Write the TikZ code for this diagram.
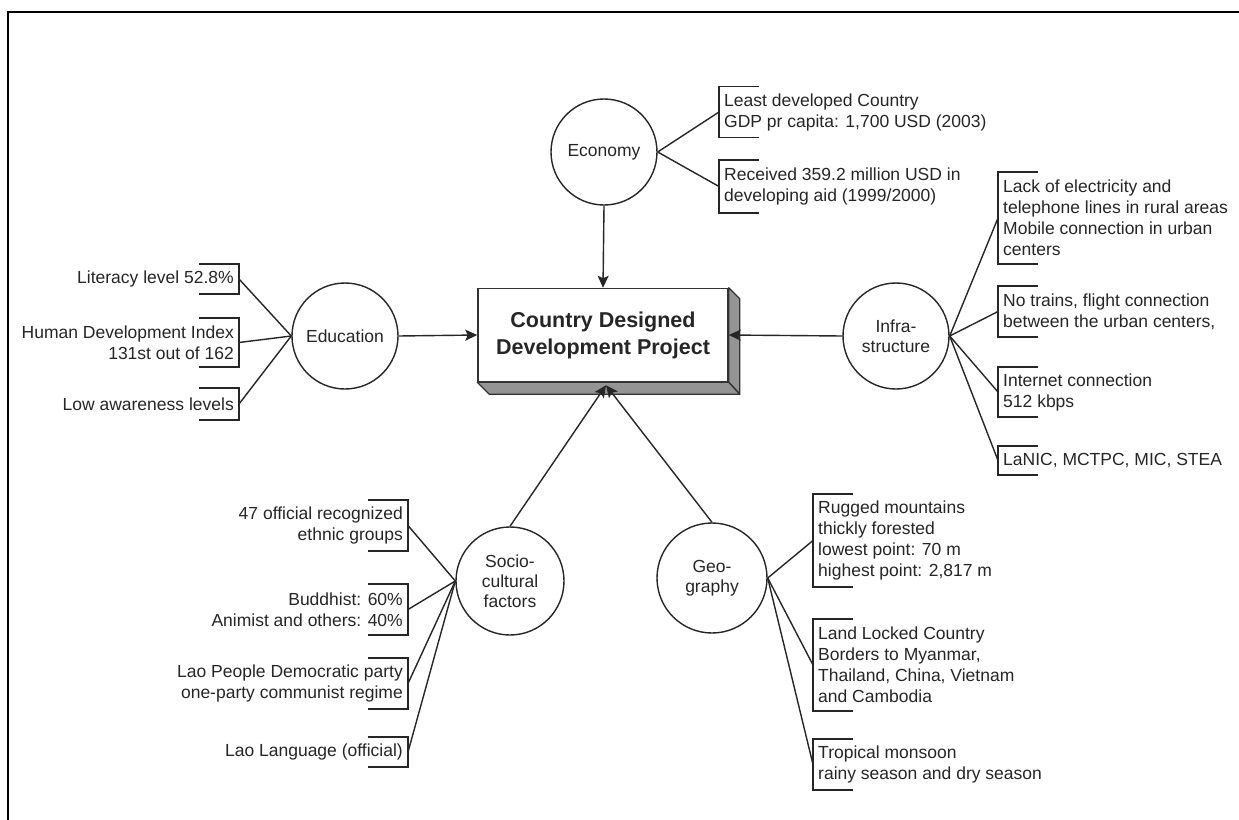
\documentclass[tikz,border=0pt]{standalone}
\usepackage{fontspec}
\setmainfont{Liberation Sans}
\usetikzlibrary{arrows.meta,calc}

% brackets: open to the right (text on the right side of the bar)
\newcommand\bracketR[1]{\draw[brk] ([xshift=40pt]#1.north west) -- (#1.north west) -- (#1.south west) -- ([xshift=40pt]#1.south west);}
% brackets: open to the left (text on the left side of the bar)
\newcommand\bracketL[1]{\draw[brk] ([xshift=-40pt]#1.north east) -- (#1.north east) -- (#1.south east) -- ([xshift=-40pt]#1.south east);}

\tikzset{
  txt/.style={font=\fontsize{17.5}{21}\selectfont, text=black!85, inner xsep=5pt, inner ysep=0pt},
  itemR/.style={txt, anchor=west, align=left},
  itemL/.style={txt, anchor=east, align=right},
  topic/.style={circle, draw=black!85, line width=1.4pt, fill=white, inner sep=0pt,
    minimum size=106pt, align=center, font=\fontsize{17.5}{20}\selectfont, text=black!85},
  brk/.style={draw=black!85, line width=1.5pt},
  link/.style={draw=black!85, line width=1.4pt},
  feed/.style={link, -{Stealth[length=12pt,width=11pt,inset=2.5pt]}},
  face/.style={draw=black!80, line width=1.3pt, fill=black!42, line join=round},
  project/.style={draw=black!80, line width=1.5pt, fill=white, minimum width=250pt,
    minimum height=93pt, align=center, inner sep=0pt,
    font=\fontsize{21.5}{27}\selectfont\bfseries, text=black!85}
}

\begin{document}
\begin{tikzpicture}[x=1pt,y=-1pt]
\useasboundingbox (0,0) rectangle (1239,819);
\fill[white] (0,0) rectangle (1239,819);

% frame (top and left edges)
\draw[line width=2.4pt] (8,830) -- (8,12) -- (1250,12);

% central project box with 3D faces
\node[project] (box) at (603,335) {Country Designed\\Development Project};
\draw[face] (box.north east) -- ++(11,11) -- ($(box.south east)+(11,12)$) -- (box.south east) -- cycle;
\draw[face] (box.south west) -- (box.south east) -- ++(11,12) -- ($(box.south west)+(12,12)$) -- cycle;
\coordinate (hub) at ($(box.south)+(3,3)$);

% topic circles
\node[topic] (econ) at (604,152) {Economy};
\node[topic] (edu) at (345,336) {Education};
\node[topic] (infra) at (896,336) {Infra-\\structure};
\node[topic, minimum size=108pt] (socio) at (510,581) {Socio-\\cultural\\factors};
\node[topic, minimum size=110pt] (geo) at (712,578) {Geo-\\graphy};

% economy items
\node[itemR, minimum height=51pt] (e1) at (719,112) {Least developed Country\\GDP pr capita: 1,700 USD (2003)};
\node[itemR, minimum height=53pt] (e2) at (719,186.5) {Received 359.2 million USD in\\developing aid (1999/2000)};
\bracketR{e1}\bracketR{e2}
\draw[link] (econ.east) -- (e1.west);
\draw[link] (econ.east) -- (e2.west);

% education items
\node[itemL, minimum height=30pt] (d1) at (239,279) {Literacy level 52.8\%};
\node[itemL, minimum height=49pt] (d2) at (239,342.5) {Human Development Index\\131st out of 162};
\node[itemL, minimum height=32pt] (d3) at (239,404) {Low awareness levels};
\bracketL{d1}\bracketL{d2}\bracketL{d3}
\draw[link] (edu.west) -- (d1.east);
\draw[link] (edu.west) -- (d2.east);
\draw[link] (edu.west) -- (d3.east);

% infrastructure items
\node[itemR, minimum height=92pt] (i1) at (998,218) {Lack of electricity and\\telephone lines in rural areas\\Mobile connection in urban\\centers};
\node[itemR, minimum height=51pt] (i2) at (998,311.5) {No trains, flight connection\\between the urban centers,};
\node[itemR, minimum height=50pt] (i3) at (998,392) {Internet connection\\512 kbps};
\node[itemR, minimum height=29pt] (i4) at (998,460.5) {LaNIC, MCTPC, MIC, STEA};
\bracketR{i1}\bracketR{i2}\bracketR{i3}\bracketR{i4}
\draw[link] (infra.east) -- (i1.west);
\draw[link] (infra.east) -- (i2.west);
\draw[link] (infra.east) -- (i3.west);
\draw[link] (infra.east) -- (i4.west);

% socio-cultural items
\node[itemL, minimum height=51pt] (s1) at (408,525.5) {47 official recognized\\ethnic groups};
\node[itemL, minimum height=51pt] (s2) at (408,609.5) {Buddhist: 60\%\\Animist and others: 40\%};
\node[itemL, minimum height=51pt] (s3) at (408,683.5) {Lao People Democratic party\\one-party communist regime};
\node[itemL, minimum height=30pt] (s4) at (408,752) {Lao Language (official)};
\bracketL{s1}\bracketL{s2}\bracketL{s3}\bracketL{s4}
\draw[link] (socio.west) -- (s1.east);
\draw[link] (socio.west) -- (s2.east);
\draw[link] (socio.west) -- (s3.east);
\draw[link] (socio.west) -- (s4.east);

% geography items
\node[itemR, minimum height=93pt] (g1) at (813,540.5) {Rugged mountains\\thickly forested\\lowest point: 70 m\\highest point: 2,817 m};
\node[itemR, minimum height=92pt] (g2) at (813,665) {Land Locked Country\\Borders to Myanmar,\\Thailand, China, Vietnam\\and Cambodia};
\node[itemR, minimum height=51pt] (g3) at (813,764.5) {Tropical monsoon\\rainy season and dry season};
\bracketR{g1}\bracketR{g2}\bracketR{g3}
\draw[link] (geo.east) -- (g1.west);
\draw[link] (geo.east) -- (g2.west);
\draw[link] (geo.east) -- (g3.west);

% topics feeding the project
\draw[feed] (econ.south) -- (box.north);
\draw[feed] (edu.east) -- (box.west);
\draw[feed] (infra.west) -- (box.east);
\draw[feed] (socio.north) -- (hub);
\draw[feed] (geo.north) -- (hub);
\end{tikzpicture}
\end{document}
